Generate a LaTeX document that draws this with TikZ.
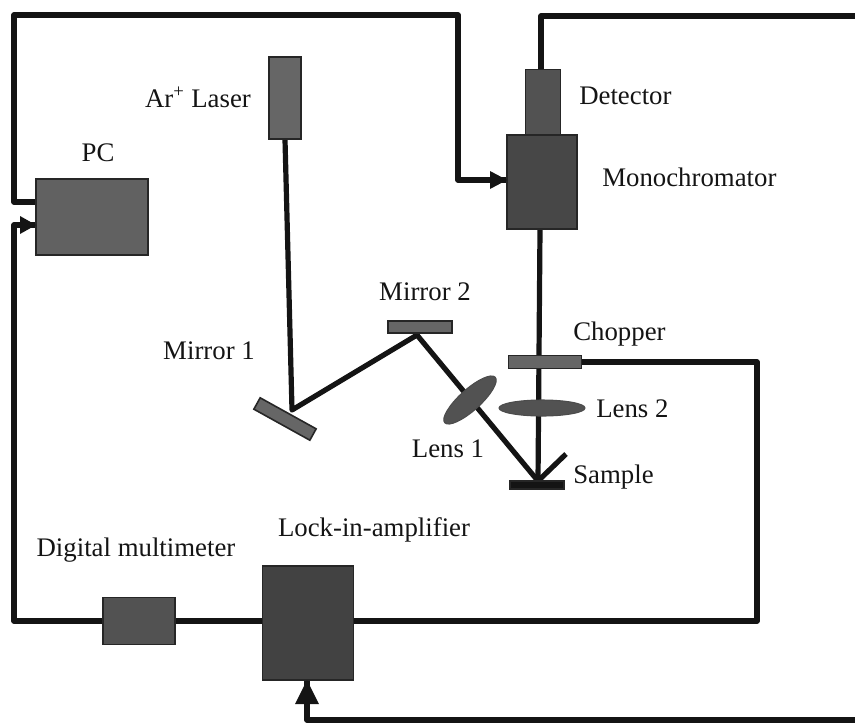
\documentclass[tikz,border=0pt]{standalone}
\usepackage{fontspec}
\setmainfont{Liberation Serif}
\usetikzlibrary{arrows.meta,backgrounds,shapes.geometric}

\tikzset{
  box/.style n args={3}{draw=black!85,line width=1.2pt,fill=#3,inner sep=0pt,
    minimum width=#1*0.75pt,minimum height=#2*0.75pt},
  lens/.style 2 args={ellipse,draw=black!70,line width=.8pt,fill=black!68,inner sep=0pt,
    minimum width=#1*0.75pt,minimum height=#2*0.75pt},
  wire/.style={line width=3.9pt,black!92,line join=round},
  lbl/.style={font=\fontsize{20.1}{22}\selectfont,inner sep=0pt,text=black!92},
}

\begin{document}
\begin{tikzpicture}[x=0.75pt,y=-0.75pt]
      \useasboundingbox (0,0) rectangle (855,725);

      % instruments
      \node[box={32}{82}{black!60}] (laser) at (285,98) {};
      \node[box={112}{76}{black!62}] (pc) at (92,217) {};
      \node[box={35}{65}{black!68}] (detector) at (543,102) {};
      \node[box={70}{94}{black!72}] (mono) at (542,182) {};
      \node[box={72}{47}{black!68}] (dmm) at (139,621) {};
      \node[box={91}{114}{black!74}] (lockin) at (308,623) {};

      % optics
      \node[box={64}{13}{black!60}] (mirrora) at (285,419) [rotate=-29] {};
      \node[box={64}{12}{black!60}] (mirrorb) at (420,327) {};
      \node[box={73}{13}{black!60}] (chopper) at (545,362) {};
      \node[lens={86}{16}] (lensb) at (542,408) {};
      \node[lens={68}{21},rotate=42] (lensa) at (470,400) {};
      \node[box={54}{8}{black!92}] (sample) at (537,485) {};

      % free ends and bends
      \coordinate (hita) at (292,410);
      \coordinate (hitb) at (417,335);
      \coordinate (hits) at (538,481);
      \coordinate (refl) at (566,454);
      \coordinate (monoout) at (540,229);
      \coordinate (pcout) at (36,202);
      \coordinate (pcin) at (36,225);
      \coordinate (monoin) at (507,180);
      \coordinate (detout) at (541,69);
      \coordinate (dmmout) at (103,621);
      \coordinate (lockdmm) at (263,621);
      \coordinate (dmmlock) at (175,621);
      \coordinate (lockout) at (354,621);
      \coordinate (lockin2) at (307,680);
      \coordinate (topend) at (855,16);
      \coordinate (botend) at (855,720);

      % wires go under the boxes
      \begin{scope}[on background layer]
      \draw[wire] (laser.south) -- (hita) -- (hitb) -- (hits) -- (refl);
      \draw[wire] (monoout) -- (hits);
      \draw[wire] (pcout) -- (14,202) -- (14,15) -- (458,15) -- (458,180) -- (monoin);
      \draw[wire] (detout) -- (541,16) -- (topend);
      \draw[wire] (chopper.east) -- (757,362) -- (757,621) -- (lockout);
      \draw[wire] (dmmlock) -- (lockdmm);
      \draw[wire] (dmmout) -- (14,621) -- (14,225) -- (pcin);
      \draw[wire] (botend) -- (307,720) -- (lockin2);
      \end{scope}
      \fill[black!92] (monoin) -- ++(-17,-9) -- ++(0,18) -- cycle;
      \fill[black!92] (pcin) -- ++(-16,-9) -- ++(0,18) -- cycle;
      \fill[black!92] (lockin2) -- ++(-12,24) -- ++(24,0) -- cycle;

      % labels
      \node[lbl] (lblaser) at (198,97) {Ar\textsuperscript{+} Laser};
      \node[lbl] (lbpc) at (98,153) {PC};
      \node[lbl,right] (lbdetector) at (579,96) {Detector};
      \node[lbl,right] (lbmono) at (602,177) {Monochromator};
      \node[lbl] (lbmirrorb) at (425,292) {Mirror 2};
      \node[lbl] (lbmirrora) at (209,351) {Mirror 1};
      \node[lbl,right] (lbchopper) at (573,334) {Chopper};
      \node[lbl,right] (lblensb) at (596,409) {Lens 2};
      \node[lbl] (lblensa) at (448,449) {Lens 1};
      \node[lbl,right] (lbsample) at (573,477) {Sample};
      \node[lbl] (lbdmm) at (136,550) {Digital multimeter};
      \node[lbl] (lblockin) at (374,530) {Lock-in-amplifier};

    \end{tikzpicture}
\end{document}
